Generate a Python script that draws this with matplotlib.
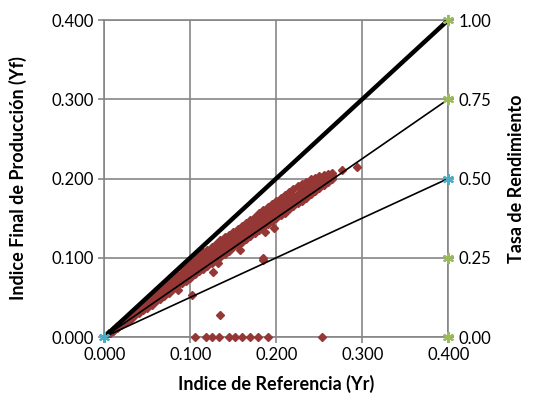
import matplotlib
matplotlib.use("Agg")
import matplotlib.pyplot as plt

# scatter band: for each Yr value, four Yf readings across the cloud
band_x = [0.005, 0.010, 0.015, 0.020, 0.025, 0.030, 0.035, 0.040, 0.045, 0.050,
          0.055, 0.060, 0.065, 0.070, 0.075, 0.080, 0.085, 0.090, 0.095, 0.100,
          0.105, 0.110, 0.115, 0.120, 0.125, 0.130, 0.135, 0.140, 0.145, 0.150,
          0.155, 0.160, 0.165, 0.170, 0.175, 0.180, 0.185, 0.190, 0.195, 0.200,
          0.205, 0.210, 0.215, 0.220, 0.225, 0.230, 0.235, 0.240, 0.245, 0.250,
          0.255, 0.260, 0.265]
band_lo = [0.004, 0.008, 0.011, 0.015, 0.019, 0.022, 0.026, 0.030, 0.034, 0.037,
           0.041, 0.045, 0.048, 0.052, 0.056, 0.060, 0.064, 0.068, 0.071, 0.075,
           0.079, 0.083, 0.086, 0.090, 0.094, 0.097, 0.101, 0.105, 0.109, 0.113,
           0.116, 0.120, 0.124, 0.128, 0.131, 0.135, 0.139, 0.142, 0.146, 0.150,
           0.154, 0.157, 0.161, 0.165, 0.169, 0.172, 0.176, 0.180, 0.184, 0.188,
           0.192, 0.196, 0.200]
band_m1 = [0.004, 0.008, 0.012, 0.016, 0.020, 0.024, 0.028, 0.032, 0.036, 0.040,
           0.044, 0.048, 0.052, 0.056, 0.060, 0.065, 0.069, 0.074, 0.077, 0.081,
           0.085, 0.089, 0.092, 0.096, 0.100, 0.103, 0.107, 0.111, 0.115, 0.119,
           0.122, 0.126, 0.130, 0.134, 0.137, 0.141, 0.145, 0.149, 0.152, 0.156,
           0.160, 0.164, 0.167, 0.171, 0.175, 0.178, 0.182, 0.186, 0.189, 0.192,
           0.196, 0.199, 0.202]
band_m2 = [0.005, 0.009, 0.013, 0.017, 0.022, 0.025, 0.030, 0.034, 0.039, 0.042,
           0.047, 0.051, 0.056, 0.061, 0.065, 0.069, 0.074, 0.080, 0.084, 0.088,
           0.091, 0.095, 0.098, 0.101, 0.105, 0.109, 0.113, 0.117, 0.120, 0.124,
           0.127, 0.131, 0.135, 0.139, 0.143, 0.147, 0.151, 0.155, 0.159, 0.163,
           0.166, 0.170, 0.174, 0.178, 0.181, 0.184, 0.188, 0.191, 0.194, 0.197,
           0.200, 0.202, 0.204]
band_hi = [0.005, 0.009, 0.014, 0.018, 0.023, 0.027, 0.032, 0.036, 0.041, 0.045,
           0.050, 0.055, 0.060, 0.065, 0.070, 0.075, 0.080, 0.086, 0.091, 0.095,
           0.099, 0.103, 0.107, 0.110, 0.114, 0.118, 0.122, 0.126, 0.129, 0.133,
           0.136, 0.140, 0.144, 0.148, 0.152, 0.156, 0.160, 0.164, 0.168, 0.172,
           0.176, 0.179, 0.183, 0.187, 0.190, 0.193, 0.196, 0.199, 0.201, 0.203,
           0.205, 0.206, 0.207]

# scattered points off the main band
out_x = [0.105, 0.118, 0.125, 0.133, 0.145, 0.152, 0.160, 0.170, 0.179, 0.190,
         0.253, 0.1345, 0.1016, 0.127, 0.185, 0.185, 0.197, 0.187, 0.158, 0.132,
         0.086, 0.276, 0.2935]
out_y = [0.000, 0.000, 0.000, 0.000, 0.000, 0.000, 0.000, 0.000, 0.000, 0.000,
         0.000, 0.028, 0.0536, 0.082, 0.100, 0.097, 0.138, 0.133, 0.110, 0.094,
         0.0595, 0.211, 0.214]

# reference lines from origin (Yr, Yf end points)
ref_end_x = [0.4, 0.4, 0.4]
ref_end_y = [0.4, 0.3, 0.2]
ref_width = [3.2, 1.2, 1.2]

# performance ratio markers on the right axis
pr_green = [1.00, 0.75, 0.25, 0.00]
pr_blue = [0.50]

x_ticks = [0.0, 0.1, 0.2, 0.3, 0.4]
y_ticks = [0.0, 0.1, 0.2, 0.3, 0.4]
pr_ticks = [0.0, 0.25, 0.5, 0.75, 1.0]

RED = "#953735"
GREEN = "#9BBB59"
BLUE = "#4BACC6"
GRID = "#868686"
STAR = (6, 2, 0)

plt.rcParams["font.family"] = ["Lato", "DejaVu Sans"]

fig = plt.figure(figsize=(5.4, 4.09), dpi=100)
ax = fig.add_axes([0.193, 0.176, 0.637, 0.775])

ax.set_xlim(0, 0.4)
ax.set_ylim(0, 0.4)
ax.set_xticks(x_ticks)
ax.set_yticks(y_ticks)
ax.set_xticklabels(["{:.3f}".format(v) for v in x_ticks])
ax.set_yticklabels(["{:.3f}".format(v) for v in y_ticks])
ax.grid(True, color=GRID, linewidth=1.2)
ax.set_axisbelow(True)
for s in ax.spines.values():
    s.set_color(GRID)
    s.set_linewidth(1.2)
ax.tick_params(axis="both", colors=GRID, labelcolor="black", labelsize=12,
               length=4, width=1.2, direction="out")

bx, by = [], []
for col in (band_lo, band_m1, band_m2, band_hi):
    bx += band_x
    by += col
ax.plot(bx, by, linestyle="none", marker="D", markersize=4.3, color=RED, zorder=3)
ax.plot(out_x, out_y, linestyle="none", marker="D", markersize=4.3, color=RED,
        zorder=3, clip_on=False)

for ex, ey, w in zip(ref_end_x, ref_end_y, ref_width):
    ax.plot([0, ex], [0, ey], color="black", linewidth=w, zorder=4,
            solid_capstyle="butt")

ax.set_xlabel("Indice de Referencia (Yr)", fontsize=13, fontweight="bold")
ax.set_ylabel("Indice Final de Producción (Yf)", fontsize=13, fontweight="bold")
ax.xaxis.set_label_coords(0.5, -0.12)
ax.yaxis.set_label_coords(-0.224, 0.5)

ax2 = ax.twinx()
ax2.set_ylim(0, 1.0)
ax2.set_yticks(pr_ticks)
ax2.set_yticklabels(["{:.2f}".format(v) for v in pr_ticks])
for s in ax2.spines.values():
    s.set_visible(False)
ax2.tick_params(axis="y", colors=GRID, labelcolor="black", labelsize=12,
                length=4, width=1.2, direction="out")
ax2.plot([0.4] * len(pr_green), pr_green, linestyle="none", marker=STAR,
         markersize=8, markeredgewidth=1.5, color=GREEN, clip_on=False, zorder=5)
ax2.plot([0.4] * len(pr_blue), pr_blue, linestyle="none", marker=STAR,
         markersize=8, markeredgewidth=1.5, color=BLUE, clip_on=False, zorder=5)
ax2.plot([0.0], [0.0], linestyle="none", marker=STAR, markersize=8,
         markeredgewidth=1.5, color=BLUE, clip_on=False, zorder=5)
ax2.set_ylabel("Tasa de Rendimiento", fontsize=13, fontweight="bold")
ax2.yaxis.set_label_coords(1.174, 0.5)

fig.savefig("out.png", dpi=100)
